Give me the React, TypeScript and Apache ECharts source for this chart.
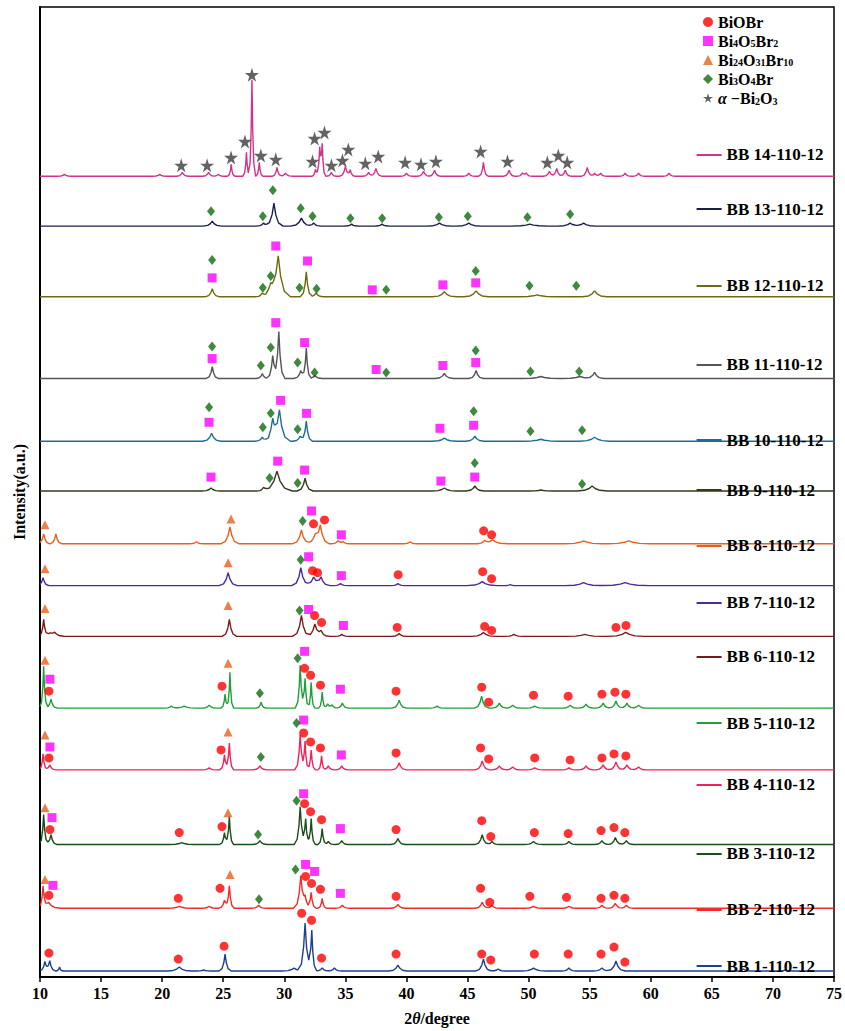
import React, { useEffect, useRef } from "react";
import * as echarts from "echarts";

// ---------- data ----------
const SAMPLES = [
  "BB 1-110-12", "BB 2-110-12", "BB 3-110-12", "BB 4-110-12", "BB 5-110-12",
  "BB 6-110-12", "BB 7-110-12", "BB 8-110-12", "BB 9-110-12", "BB 10-110-12",
  "BB 11-110-12", "BB 12-110-12", "BB 13-110-12", "BB 14-110-12",
];
// vertical offset of each pattern (a.u.)
const OFFSETS = [6, 69, 133, 208, 270, 342, 393, 435, 488, 538, 601, 683, 754, 804];
// height of each sample's name tag (a.u.)
const TAG_LEVELS = [11, 68, 124, 193, 255, 322, 376, 433, 489, 539, 615, 694, 771, 826];
const LINE_COLORS = [
  "#1f3f8f", "#f52a2a", "#1a4d1a", "#f0245a", "#1fa03a", "#7b1a1a", "#4b2a9e",
  "#e8601c", "#2f3b1c", "#1f6d96", "#555555", "#6e6a12", "#1c1f4e", "#d2338a",
];
const X_TICKS = [10, 15, 20, 25, 30, 35, 40, 45, 50, 55, 60, 65, 70, 75];

// peaks: [2θ, height, half width]
const PEAKS_BB1 = [[10.4, 9, 0.1], [10.8, 10, 0.1], [11.6, 4, 0.06], [21.4, 4, 0.2], [23.4, 1, 0.12], [25.15, 17, 0.1], [30.8, 3, 0.2], [31.7, 48, 0.12], [32.25, 40, 0.08], [33.1, 3, 0.12], [34.1, 3, 0.12], [39.3, 6, 0.15], [46.3, 12, 0.13], [47.5, 2, 0.12], [50.4, 3, 0.2], [53.3, 3, 0.12], [56.0, 3, 0.15], [57.15, 10, 0.15], [67.6, 2, 0.12], [71.0, 1, 0.12]];
const PEAKS_BB2 = [[10.25, 21, 0.08], [10.7, 6, 0.2], [21.4, 2, 0.2], [23.85, 2, 0.12], [25.1, 8, 0.1], [25.5, 22, 0.08], [27.9, 3, 0.12], [31.35, 32, 0.12], [31.7, 10, 0.1], [32.2, 16, 0.08], [33.1, 10, 0.07], [34.75, 3, 0.12], [39.3, 4, 0.12], [46.2, 6, 0.12], [47.0, 3, 0.12], [50.4, 2, 0.15], [53.3, 2, 0.12], [56.0, 3, 0.12], [57.1, 5, 0.12], [58.0, 3, 0.12]];
const PEAKS_BB3 = [[10.3, 30, 0.08], [10.9, 10, 0.1], [21.6, 2, 0.2], [25.1, 12, 0.08], [25.5, 28, 0.07], [28.0, 4, 0.12], [31.3, 38, 0.1], [31.75, 25, 0.08], [32.2, 26, 0.07], [33.1, 16, 0.07], [33.6, 3, 0.1], [34.7, 4, 0.1], [39.3, 6, 0.12], [46.2, 10, 0.12], [47.0, 3, 0.12], [50.4, 3, 0.15], [53.3, 3, 0.12], [56.0, 4, 0.12], [57.1, 7, 0.12], [58.0, 4, 0.12]];
const PEAKS_BB4 = [[10.25, 16, 0.07], [10.8, 5, 0.1], [23.85, 2, 0.12], [25.1, 15, 0.08], [25.5, 27, 0.07], [28.0, 4, 0.12], [31.3, 35, 0.09], [31.7, 28, 0.07], [32.2, 20, 0.07], [33.05, 14, 0.06], [33.6, 4, 0.1], [34.7, 4, 0.1], [39.4, 7, 0.12], [46.2, 9, 0.12], [47.6, 4, 0.12], [48.7, 3, 0.12], [50.5, 2, 0.15], [53.3, 2, 0.12], [54.7, 4, 0.12], [56.1, 5, 0.12], [57.15, 8, 0.12], [58.05, 5, 0.12], [59.0, 3, 0.12]];
const PEAKS_BB5 = [[10.3, 42, 0.07], [10.9, 9, 0.1], [20.75, 2, 0.12], [21.8, 2, 0.2], [23.85, 3, 0.12], [25.15, 14, 0.07], [25.55, 36, 0.06], [28.1, 6, 0.08], [31.3, 43, 0.08], [31.7, 30, 0.07], [32.2, 26, 0.06], [33.1, 16, 0.06], [33.55, 4, 0.1], [33.9, 3, 0.1], [34.75, 5, 0.1], [39.4, 8, 0.12], [42.5, 2, 0.12], [46.15, 12, 0.12], [47.6, 5, 0.12], [48.7, 3, 0.12], [50.5, 2, 0.15], [53.4, 3, 0.12], [54.7, 4, 0.12], [56.1, 5, 0.12], [57.15, 7, 0.12], [58.05, 5, 0.12], [59.0, 3, 0.12]];
const PEAKS_BB6 = [[10.3, 16, 0.08], [10.8, 3, 0.3], [11.2, 3, 0.15], [25.5, 17, 0.12], [31.4, 21, 0.15], [32.5, 12, 0.15], [33.0, 5, 0.15], [34.7, 2, 0.12], [39.4, 3, 0.12], [46.3, 4, 0.2], [48.8, 2, 0.15], [54.6, 2, 0.3], [57.95, 4, 0.3]];
const PEAKS_BB7 = [[10.25, 8, 0.1], [25.4, 13, 0.15], [31.35, 18, 0.15], [32.4, 8, 0.2], [33.0, 8, 0.15], [34.6, 2, 0.12], [39.3, 2, 0.12], [46.2, 4, 0.25], [48.5, 1, 0.12], [54.5, 3, 0.3], [57.9, 3, 0.4]];
const PEAKS_BB8 = [[10.3, 10, 0.1], [11.3, 10, 0.1], [22.8, 2, 0.12], [25.55, 17, 0.15], [31.4, 14, 0.15], [32.55, 8, 0.2], [32.95, 17, 0.15], [34.4, 3, 0.12], [34.8, 2, 0.12], [40.3, 2, 0.12], [46.4, 3, 0.12], [47.05, 4, 0.25], [54.5, 3, 0.3], [58.2, 3, 0.35]];
const PEAKS_BB9 = [[24.0, 3, 0.15], [28.3, 3, 0.12], [29.4, 20, 0.25], [31.7, 13, 0.13], [43.1, 3, 0.2], [45.6, 5, 0.15], [51.0, 1, 0.2], [55.2, 5, 0.25]];
const PEAKS_BB10 = [[24.05, 8, 0.15], [28.2, 4, 0.12], [29.05, 20, 0.15], [29.6, 30, 0.18], [31.3, 5, 0.12], [31.8, 20, 0.1], [43.1, 3, 0.2], [45.6, 5, 0.15], [51.0, 2, 0.3], [55.4, 4, 0.25]];
const PEAKS_BB11 = [[24.1, 12, 0.1], [28.2, 5, 0.1], [29.05, 23, 0.1], [29.55, 47, 0.1], [31.35, 8, 0.12], [31.8, 30, 0.08], [32.5, 3, 0.12], [43.1, 5, 0.15], [45.7, 8, 0.12], [51.0, 2, 0.3], [54.2, 2, 0.3], [55.4, 6, 0.15]];
const PEAKS_BB12 = [[24.1, 8, 0.12], [28.2, 3, 0.12], [28.9, 10, 0.2], [29.5, 40, 0.2], [31.8, 25, 0.1], [32.6, 4, 0.12], [43.1, 5, 0.2], [45.7, 6, 0.2], [50.7, 2, 0.3], [55.4, 6, 0.2]];
const PEAKS_BB13 = [[24.1, 5, 0.15], [28.3, 3, 0.12], [29.15, 23, 0.15], [31.4, 8, 0.18], [32.4, 3, 0.12], [35.5, 2, 0.12], [38.0, 2, 0.12], [42.7, 3, 0.2], [45.1, 3, 0.2], [50.1, 2, 0.3], [53.4, 3, 0.2], [54.5, 3, 0.2]];
const PEAKS_BB14 = [[12.0, 2, 0.12], [19.8, 2, 0.12], [21.65, 4, 0.1], [23.8, 4, 0.1], [24.6, 2, 0.1], [25.65, 12, 0.06], [26.9, 24, 0.06], [27.35, 97, 0.06], [27.95, 14, 0.06], [29.4, 9, 0.08], [30.1, 3, 0.12], [32.55, 7, 0.06], [32.9, 27, 0.07], [33.1, 30, 0.06], [33.85, 4, 0.08], [35.0, 10, 0.1], [35.4, 6, 0.08], [36.9, 4, 0.1], [37.5, 8, 0.1], [40.0, 3, 0.1], [41.4, 5, 0.1], [42.3, 6, 0.1], [45.1, 3, 0.1], [46.3, 14, 0.08], [48.4, 6, 0.1], [49.5, 3, 0.1], [49.8, 3, 0.1], [51.7, 5, 0.1], [52.3, 8, 0.1], [53.0, 6, 0.1], [54.8, 9, 0.1], [55.4, 3, 0.1], [55.9, 3, 0.1], [57.9, 3, 0.1], [59.0, 3, 0.1], [61.5, 3, 0.1]];
const PEAKS = [PEAKS_BB1, PEAKS_BB2, PEAKS_BB3, PEAKS_BB4, PEAKS_BB5, PEAKS_BB6, PEAKS_BB7, PEAKS_BB8, PEAKS_BB9, PEAKS_BB10, PEAKS_BB11, PEAKS_BB12, PEAKS_BB13, PEAKS_BB14];

// phase markers: [sample no., 2θ, height above the pattern]
const BIOBR = [
  [8, 32.39, 20], [8, 33.29, 24], [8, 46.32, 13], [8, 46.97, 9],
  [7, 32.31, 15], [7, 32.72, 13], [7, 39.32, 11], [7, 46.24, 14], [7, 46.97, 7],
  [6, 32.48, 21], [6, 33.05, 14], [6, 39.24, 9], [6, 46.4, 10], [6, 46.97, 6], [6, 57.15, 9], [6, 57.97, 11],
  [5, 10.73, 17], [5, 24.9, 22], [5, 31.66, 40], [5, 32.15, 33], [5, 32.96, 23], [5, 39.15, 17], [5, 46.16, 21], [5, 46.73, 6], [5, 50.4, 13], [5, 53.24, 12], [5, 56.0, 14], [5, 57.07, 16], [5, 57.96, 14],
  [4, 10.73, 12], [4, 24.82, 20], [4, 31.58, 37], [4, 32.15, 28], [4, 32.96, 22], [4, 39.15, 17], [4, 46.07, 22], [4, 46.73, 11], [4, 50.5, 12], [4, 53.4, 10], [4, 56.0, 12], [4, 56.99, 16], [4, 57.96, 14],
  [3, 10.81, 15], [3, 21.4, 12], [3, 24.9, 18], [3, 31.66, 41], [3, 32.15, 33], [3, 33.05, 25], [3, 39.15, 15], [3, 46.16, 24], [3, 46.9, 8], [3, 50.47, 12], [3, 53.24, 11], [3, 55.93, 14], [3, 56.99, 17], [3, 57.88, 12],
  [2, 10.73, 13], [2, 21.32, 10], [2, 24.74, 20], [2, 31.74, 32], [2, 32.23, 25], [2, 32.96, 19], [2, 39.15, 12], [2, 46.07, 20], [2, 46.82, 6], [2, 50.1, 12], [2, 53.1, 11], [2, 55.93, 10], [2, 56.99, 13], [2, 57.88, 10],
  [1, 10.73, 18], [1, 21.32, 12], [1, 25.07, 25], [1, 31.42, 58], [1, 32.23, 51], [1, 33.05, 13], [1, 39.15, 17], [1, 46.16, 17], [1, 46.9, 11], [1, 50.47, 17], [1, 53.24, 17], [1, 55.93, 17], [1, 56.99, 24], [1, 57.88, 9],
];
const BI4O5BR2 = [
  [12, 24.09, 19], [12, 29.3, 51], [12, 31.9, 36], [12, 37.2, 7], [12, 42.98, 12], [12, 45.67, 14],
  [11, 24.09, 20], [11, 29.3, 56], [11, 31.66, 36], [11, 37.52, 9], [11, 42.98, 13], [11, 45.67, 16],
  [10, 23.84, 19], [10, 29.7, 41], [10, 31.82, 28], [10, 42.74, 13], [10, 45.5, 16],
  [9, 24.0, 14], [9, 29.46, 30], [9, 31.66, 21], [9, 42.82, 10], [9, 45.59, 14],
  [8, 32.23, 33], [8, 34.67, 9],
  [7, 31.99, 29], [7, 34.67, 10],
  [6, 31.99, 27], [6, 34.84, 11],
  [5, 10.81, 29], [5, 31.66, 57], [5, 34.59, 19],
  [4, 10.81, 23], [4, 31.58, 50], [4, 34.67, 15],
  [3, 10.98, 27], [3, 31.58, 51], [3, 34.59, 16],
  [2, 11.06, 23], [2, 31.74, 44], [2, 32.48, 37], [2, 34.59, 15],
];
const BI24O31BR10 = [
  [8, 10.41, 19], [8, 25.64, 25], [7, 10.41, 17], [7, 25.4, 23], [6, 10.41, 28], [6, 25.4, 31],
  [5, 10.41, 48], [5, 25.4, 45], [4, 10.41, 35], [4, 25.39, 38], [3, 10.41, 37], [3, 25.39, 32],
  [2, 10.41, 29], [2, 25.56, 34],
];
const BI3O4BR = [
  [13, 24.0, 15], [13, 28.24, 10], [13, 29.06, 36], [13, 31.34, 18], [13, 32.31, 10], [13, 35.41, 8], [13, 38.01, 8], [13, 42.65, 9], [13, 45.02, 10], [13, 49.9, 9], [13, 53.4, 12],
  [12, 24.09, 37], [12, 28.24, 9], [12, 28.89, 21], [12, 31.25, 9], [12, 32.64, 8], [12, 38.34, 7], [12, 45.67, 26], [12, 50.07, 11], [12, 53.9, 11],
  [11, 24.09, 32], [11, 28.08, 13], [11, 28.89, 31], [11, 31.09, 16], [11, 32.48, 6], [11, 38.34, 6], [11, 45.67, 28], [11, 50.15, 7], [11, 54.14, 7],
  [10, 23.84, 34], [10, 28.24, 14], [10, 28.89, 28], [10, 31.09, 12], [10, 45.5, 30], [10, 50.15, 10], [10, 54.38, 11],
  [9, 28.8, 13], [9, 31.09, 8], [9, 45.59, 28], [9, 54.38, 7],
  [8, 31.5, 23], [7, 31.34, 26], [6, 31.25, 26],
  [5, 28.0, 15], [5, 31.09, 50], [4, 28.08, 13], [4, 31.0, 47],
  [3, 27.85, 10], [3, 31.0, 44], [2, 27.93, 9], [2, 30.92, 39],
];
const ALPHA_BI2O3 = [
  [14, 21.56, 11], [14, 23.68, 11], [14, 25.64, 19], [14, 26.78, 35], [14, 27.35, 102], [14, 28.08, 21],
  [14, 29.3, 17], [14, 32.31, 15], [14, 32.48, 38], [14, 33.29, 44], [14, 33.86, 11], [14, 34.76, 16],
  [14, 35.24, 27], [14, 36.63, 13], [14, 37.69, 20], [14, 39.89, 14], [14, 41.19, 12], [14, 42.41, 15],
  [14, 46.07, 25], [14, 48.27, 15], [14, 51.53, 14], [14, 52.43, 21], [14, 53.16, 14],
];

const PHASES = [
  { name: "BiOBr", data: BIOBR, symbol: "circle", size: 9, color: "#ff0000", label: "{b|BiOBr}" },
  { name: "Bi4O5Br2", data: BI4O5BR2, symbol: "rect", size: 9, color: "#ff00ff", label: "{b|Bi}{s|4}{b|O}{s|5}{b|Br}{s|2}" },
  { name: "Bi24O31Br10", data: BI24O31BR10, symbol: "triangle", size: 9, color: "#e8601c", label: "{b|Bi}{s|24}{b|O}{s|31}{b|Br}{s|10}" },
  { name: "Bi3O4Br", data: BI3O4BR, symbol: "diamond", size: [8, 10], color: "#0f6b0f", label: "{b|Bi}{s|3}{b|O}{s|4}{b|Br}" },
  { name: "α-Bi2O3", data: ALPHA_BI2O3, symbol: "path://M50,0 L61,35 L98,35 L68,57 L79,91 L50,70 L21,91 L32,57 L2,35 L39,35 Z", size: 14, color: "#3c3c3c", label: "{i|α} {b|−Bi}{s|2}{b|O}{s|3}" },
];

const FONT = "'Liberation Serif', 'DejaVu Serif', serif";

// profile of one pattern, evaluated only at the peaks' key points
function profile(peaks: number[][], offset: number) {
  const xs: number[] = [10, 75];
  peaks.forEach(([p, , g]) => {
    [-5, -2.5, -1, 0, 1, 2.5, 5].forEach((k) => {
      const x = p + k * g;
      if (x >= 10 && x <= 75) xs.push(x);
    });
  });
  xs.sort((a, b) => a - b);
  const shape = (d: number, h: number, g: number) => {
    const a = Math.abs(d) / g;
    if (a >= 5) return 0;
    if (a <= 1) return h * (1 - 0.5 * a);
    if (a <= 2.5) return h * (0.5 - (0.36 * (a - 1)) / 1.5);
    return h * 0.14 * (1 - (a - 2.5) / 2.5);
  };
  return xs.map((x) => {
    let y = offset;
    peaks.forEach(([p, h, g]) => { y += shape(x - p, h, g); });
    return [x, y];
  });
}

export default function App() {
  const ref = useRef<HTMLDivElement>(null);
  useEffect(() => {
    document.body.style.margin = "0";
    const chart = echarts.init(ref.current!, null, { renderer: "svg" });
    const lineSeries = SAMPLES.map((name, i) => ({
      name,
      type: "line",
      data: profile(PEAKS[i], OFFSETS[i]),
      showSymbol: false,
      symbol: "none",
      lineStyle: { color: LINE_COLORS[i], width: 1.4 },
      itemStyle: { color: LINE_COLORS[i] },
      z: 2,
      markLine: {
        silent: true,
        symbol: ["none", "none"],
        animation: false,
        lineStyle: { color: LINE_COLORS[i], width: 2, type: "solid" },
        label: {
          show: true,
          position: "end",
          formatter: name,
          color: "#000",
          fontWeight: "bold",
          fontSize: 17,
          fontFamily: FONT,
          distance: 5,
        },
        data: [[{ coord: [63.75, TAG_LEVELS[i]] }, { coord: [65.8, TAG_LEVELS[i]] }]],
      },
    }));
    const markerSeries = PHASES.map((ph) => ({
      name: ph.name,
      type: "scatter",
      symbol: ph.symbol,
      symbolSize: ph.size,
      itemStyle: { color: ph.color },
      z: 5,
      data: ph.data.map(([s, x, h]) => [x, OFFSETS[s - 1] + h]),
    }));
    const labelMap: Record<string, string> = {};
    PHASES.forEach((p) => { labelMap[p.name] = p.label; });
    chart.setOption({
      animation: false,
      backgroundColor: "#fff",
      grid: { left: 40, right: 7, top: 7, bottom: 50, show: true, borderColor: "#000", borderWidth: 1.5 },
      legend: {
        data: PHASES.map((p) => p.name),
        orient: "vertical",
        left: 698,
        top: 9,
        itemGap: 3,
        itemWidth: 10,
        itemHeight: 10,
        formatter: (n: string) => labelMap[n],
        textStyle: {
          fontFamily: FONT,
          fontSize: 16,
          fontWeight: "bold",
          color: "#000",
          rich: {
            b: { fontFamily: FONT, fontSize: 16, fontWeight: "bold", color: "#000", lineHeight: 15 },
            s: { fontFamily: FONT, fontSize: 10, fontWeight: "bold", color: "#000", lineHeight: 6, verticalAlign: "bottom" },
            i: { fontFamily: FONT, fontSize: 16, fontWeight: "bold", fontStyle: "italic", color: "#000", lineHeight: 15 },
          },
        },
      },
      xAxis: {
        type: "value",
        min: 10,
        max: 75,
        interval: 5,
        name: "{a|2}{i|θ}{a|/degree}",
        nameLocation: "middle",
        nameGap: 33,
        nameTextStyle: {
          rich: {
            a: { fontFamily: FONT, fontSize: 16, fontWeight: "bold", color: "#000" },
            i: { fontFamily: FONT, fontSize: 16, fontWeight: "bold", fontStyle: "italic", color: "#000" },
          },
        },
        axisLine: { show: true, lineStyle: { color: "#000", width: 2 } },
        axisTick: { show: true, length: 5, lineStyle: { color: "#000", width: 1.5 } },
        axisLabel: {
          fontFamily: FONT,
          fontSize: 16,
          fontWeight: "bold",
          color: "#000",
          margin: 8,
          formatter: (v: number) => (X_TICKS.includes(v) ? String(v) : ""),
        },
        splitLine: { show: false },
      },
      yAxis: {
        type: "value",
        min: 0,
        max: 974,
        name: "Intensity(a.u.)",
        nameLocation: "middle",
        nameGap: 13,
        nameTextStyle: { fontFamily: FONT, fontSize: 16, fontWeight: "bold", color: "#000" },
        axisLine: { show: true, lineStyle: { color: "#000", width: 2 } },
        axisTick: { show: false },
        axisLabel: { show: false },
        splitLine: { show: false },
      },
      series: [...lineSeries, ...markerSeries],
    });
    return () => chart.dispose();
  }, []);
  return <div ref={ref} style={{ width: 845, height: 1031 }} />;
}
